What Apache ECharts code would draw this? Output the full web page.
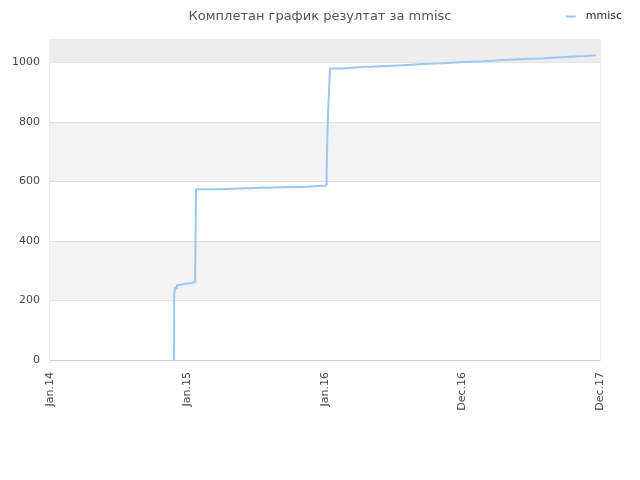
<!DOCTYPE html>
<html>
<head>
<meta charset="utf-8">
<script src="https://cdn.jsdelivr.net/npm/echarts@6/dist/echarts.min.js"></script>
<style>
  html, body, #main {
    width: 100%;
    height: 100%;
    margin: 0;
    background: #fff;
  }
</style>
</head>
<body>
<div id="main"></div>
<script>
// tick labels along the bottom, evenly spaced
const xLabels = ['Jan.14', 'Jan.15', 'Jan.16', 'Dec.16', 'Dec.17']

// position along the axis (0..4, one unit per label gap) where each level starts
const stepAt = [
  0.902, 0.903, 0.909, 0.924, 0.945, 0.982, 1.040, 1.055, 1.062,
  1.222, 1.542, 1.862, 2.012, 2.016, 2.022, 2.029, 2.036,
  2.124, 2.269, 2.415, 2.565, 2.713, 2.858, 3.004, 3.156,
  3.302, 3.447, 3.600, 3.745, 3.891, 3.971
]
// the result value held from that position on
const score = [
  0, 221, 242, 252, 256, 259, 263, 267, 574,
  579, 582, 586, 632, 728, 829, 900, 979,
  984, 987, 990, 994, 997, 1001, 1004, 1008,
  1011, 1014, 1018, 1021, 1024, 1024
]

const yMax = 1075

const chart = echarts.init(document.getElementById('main'))

chart.setOption({
  animation: false,
  textStyle: { fontFamily: 'DejaVu Sans' },
  title: {
    text: 'Комплетан график резултат за mmisc',
    left: 'center',
    top: 5,
    textStyle: { fontSize: 13, fontWeight: 'normal', color: '#555' }
  },
  legend: {
    right: 13,
    top: 6,
    itemWidth: 10,
    itemHeight: 2,
    icon: 'rect',
    textStyle: { fontSize: 11, color: '#222', padding: [0, 0, 0, 5] },
    data: ['mmisc']
  },
  grid: {
    left: 50, right: 40, top: 40, bottom: 120,
    show: true, borderColor: '#ddd', borderWidth: 1
  },
  xAxis: {
    type: 'value',
    min: 0, max: 4, interval: 1,
    axisLine: { lineStyle: { color: '#ccc' } },
    axisTick: { show: false },
    splitLine: { show: false },
    axisLabel: {
      rotate: 90,
      fontSize: 11,
      color: '#444',
      margin: 12,
      formatter: v => xLabels[v]
    }
  },
  yAxis: {
    type: 'value',
    min: 0, max: yMax, interval: 200,
    axisLine: { show: false },
    axisTick: { show: false },
    axisLabel: {
      fontSize: 11, color: '#444', margin: 10,
      formatter: v => (v % 200 === 0 ? String(v) : '')
    },
    splitLine: { lineStyle: { color: '#e0e0e0' } },
    splitArea: { show: true, areaStyle: { color: ['#ffffff', '#f3f3f3'] } }
  },
  series: [{
    name: 'mmisc',
    type: 'line',
    step: 'end',
    symbol: 'none',
    lineStyle: { color: '#99c8f5', width: 2 },
    itemStyle: { color: '#99c8f5' },
    markArea: {
      silent: true,
      itemStyle: { color: '#ededed' },
      data: [[{ yAxis: 1000 }, { yAxis: yMax }]]
    },
    data: stepAt.map((x, i) => [x, score[i]])
  }]
})
</script>
</body>
</html>
